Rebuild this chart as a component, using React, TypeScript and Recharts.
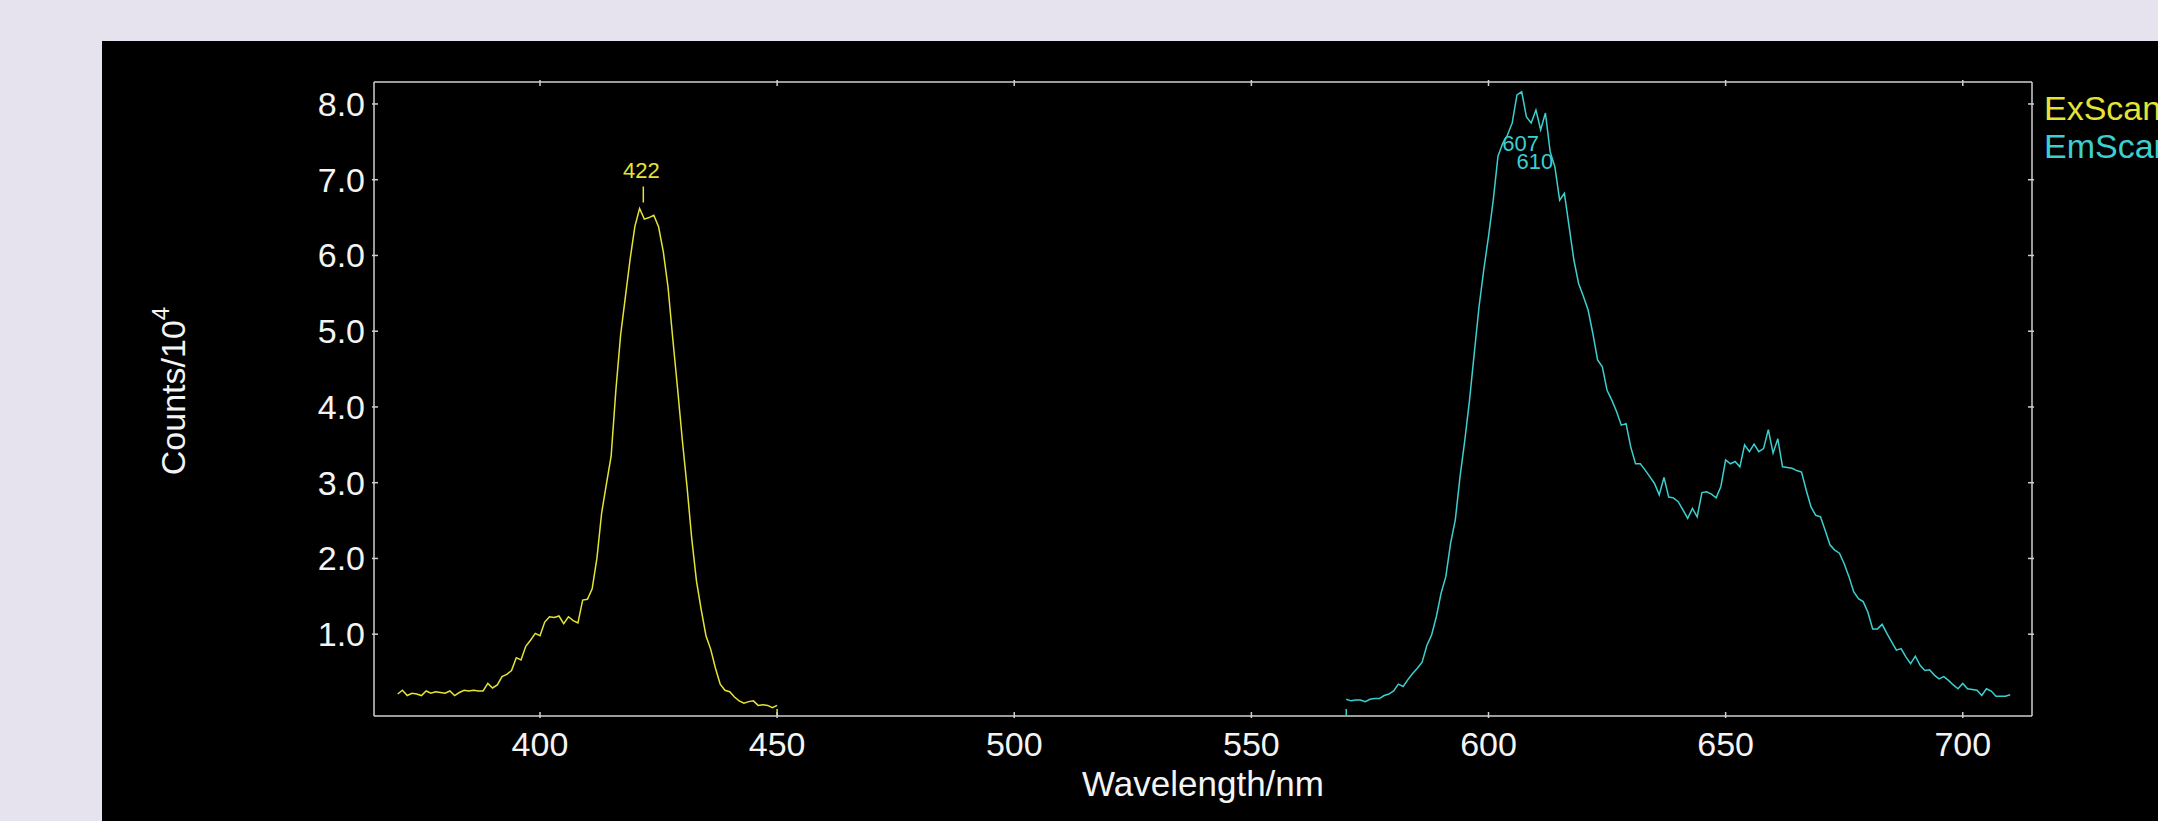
import React from 'react';
import { LineChart, Line, XAxis, YAxis, ReferenceDot } from 'recharts';

// ---- data (counts / 10^4) ----
const exWavelengths = [
  370, 371, 372, 373, 374, 375, 376, 377, 378, 379,
  380, 381, 382, 383, 384, 385, 386, 387, 388, 389,
  390, 391, 392, 393, 394, 395, 396, 397, 398, 399,
  400, 401, 402, 403, 404, 405, 406, 407, 408, 409,
  410, 411, 412, 413, 414, 415, 416, 417, 418, 419,
  420, 421, 422, 423, 424, 425, 426, 427, 428, 429,
  430, 431, 432, 433, 434, 435, 436, 437, 438, 439,
  440, 441, 442, 443, 444, 445, 446, 447, 448, 449,
  450,
];
const exCounts = [
  0.21, 0.26, 0.19, 0.22, 0.21, 0.19, 0.25, 0.22, 0.24, 0.23,
  0.22, 0.25, 0.19, 0.23, 0.26, 0.25, 0.26, 0.25, 0.25, 0.35,
  0.29, 0.33, 0.44, 0.47, 0.52, 0.69, 0.66, 0.84, 0.92, 1.01,
  0.98, 1.16, 1.23, 1.22, 1.24, 1.14, 1.23, 1.18, 1.15, 1.45,
  1.46, 1.6, 2.0, 2.6, 2.98, 3.35, 4.22, 4.95, 5.45, 5.95,
  6.38, 6.62, 6.48, 6.5, 6.53, 6.38, 6.05, 5.58, 4.9, 4.25,
  3.57, 2.95, 2.26, 1.7, 1.32, 0.98, 0.8, 0.55, 0.34, 0.26,
  0.24, 0.17, 0.12, 0.09, 0.11, 0.12, 0.06, 0.07, 0.06, 0.03,
  0.06,
];

const emWavelengths = [
  570, 571, 572, 573, 574, 575, 576, 577, 578, 579,
  580, 581, 582, 583, 584, 585, 586, 587, 588, 589,
  590, 591, 592, 593, 594, 595, 596, 597, 598, 599,
  600, 601, 602, 603, 604, 605, 606, 607, 608, 609,
  610, 611, 612, 613, 614, 615, 616, 617, 618, 619,
  620, 621, 622, 623, 624, 625, 626, 627, 628, 629,
  630, 631, 632, 633, 634, 635, 636, 637, 638, 639,
  640, 641, 642, 643, 644, 645, 646, 647, 648, 649,
  650, 651, 652, 653, 654, 655, 656, 657, 658, 659,
  660, 661, 662, 663, 664, 665, 666, 667, 668, 669,
  670, 671, 672, 673, 674, 675, 676, 677, 678, 679,
  680, 681, 682, 683, 684, 685, 686, 687, 688, 689,
  690, 691, 692, 693, 694, 695, 696, 697, 698, 699,
  700, 701, 702, 703, 704, 705, 706, 707, 708, 709,
  710,
];
const emCounts = [
  0.14, 0.12, 0.13, 0.13, 0.11, 0.14, 0.15, 0.15, 0.19, 0.21,
  0.25, 0.34, 0.31, 0.4, 0.48, 0.55, 0.63, 0.85, 0.99, 1.23,
  1.54, 1.76, 2.2, 2.51, 3.08, 3.56, 4.09, 4.71, 5.32, 5.81,
  6.25, 6.73, 7.31, 7.48, 7.59, 7.75, 8.12, 8.16, 7.83, 7.75,
  7.92, 7.66, 7.88, 7.37, 7.17, 6.73, 6.82, 6.38, 5.94, 5.63,
  5.46, 5.28, 4.97, 4.62, 4.53, 4.22, 4.09, 3.94, 3.76, 3.78,
  3.47, 3.25, 3.25, 3.17, 3.08, 2.99, 2.84, 3.07, 2.81, 2.8,
  2.75, 2.64, 2.53, 2.66, 2.55, 2.87, 2.88, 2.85, 2.8, 2.95,
  3.3, 3.25, 3.28, 3.21, 3.5, 3.41, 3.51, 3.41, 3.45, 3.7,
  3.39, 3.58, 3.21, 3.2, 3.19, 3.16, 3.14, 2.9, 2.68, 2.57,
  2.55, 2.37, 2.18, 2.11, 2.07, 1.93, 1.76, 1.56, 1.47, 1.43,
  1.29, 1.07, 1.07, 1.13, 1.01, 0.9, 0.79, 0.81, 0.7, 0.61,
  0.71, 0.59, 0.52, 0.53, 0.46, 0.41, 0.44, 0.39, 0.33, 0.28,
  0.35, 0.28, 0.27, 0.26, 0.19, 0.28, 0.25, 0.18, 0.18, 0.18,
  0.2,
];

const xTicks = [400, 450, 500, 550, 600, 650, 700];
const yTicks = [1, 2, 3, 4, 5, 6, 7, 8];
const xDomain = [365, 714.6];
const yDomain = [-0.08, 8.29];

const seriesNames = ['ExScan', 'EmScan'];

const exPeaks = [{ nm: 422, value: 6.62, text: '422' }];
const emPeaks = [
  { nm: 607, value: 8.16, text: '607' },
  { nm: 610, value: 7.92, text: '610' },
];
const scanMarkers = [
  { nm: 450, series: 'ex' },
  { nm: 570, series: 'em' },
];

// ---- style ----
const FONT = '"Liberation Sans", Arial, sans-serif';
const EX_COLOR = '#E4E436';
const EM_COLOR = '#3CCFCF';
const AXIS_COLOR = '#CFCFCF';
const TEXT_COLOR = '#F4F4F4';
const TICK_LEN = 6;

const rows = [
  ...exWavelengths.map((nm, i) => ({ nm, ex: exCounts[i] })),
  ...emWavelengths.map((nm, i) => ({ nm, em: emCounts[i] })),
];

const BottomTick = (props: any) => {
  const { x, y, payload } = props;
  return (
    <g>
      <line x1={x} y1={y} x2={x} y2={y - TICK_LEN} stroke={AXIS_COLOR} strokeWidth={1.5} />
      <text x={x} y={y + 38} textAnchor="middle" fill={TEXT_COLOR} fontSize={34} fontFamily={FONT}>
        {payload.value}
      </text>
    </g>
  );
};

const TopTick = (props: any) => {
  const { x, y } = props;
  return <line x1={x} y1={y} x2={x} y2={y + TICK_LEN} stroke={AXIS_COLOR} strokeWidth={1.5} />;
};

const LeftTick = (props: any) => {
  const { x, y, payload } = props;
  return (
    <g>
      <line x1={x} y1={y} x2={x + TICK_LEN} y2={y} stroke={AXIS_COLOR} strokeWidth={1.5} />
      <text x={x - 7} y={y + 12} textAnchor="end" fill={TEXT_COLOR} fontSize={34} fontFamily={FONT}>
        {Number(payload.value).toFixed(1)}
      </text>
    </g>
  );
};

const RightTick = (props: any) => {
  const { x, y } = props;
  return <line x1={x} y1={y} x2={x - TICK_LEN} y2={y} stroke={AXIS_COLOR} strokeWidth={1.5} />;
};

const XTitle = (props: any) => {
  const vb = props.viewBox;
  return (
    <text x={vb.x + vb.width / 2} y={vb.y + 80} textAnchor="middle" fill={TEXT_COLOR} fontSize={35} fontFamily={FONT}>
      Wavelength/nm
    </text>
  );
};

const YTitle = (props: any) => {
  const vb = props.viewBox;
  const x = vb.x - 129;
  const y = vb.y + vb.height / 2 - 8;
  return (
    <text x={x} y={y} transform={`rotate(-90, ${x}, ${y})`} textAnchor="middle" fill={TEXT_COLOR} fontSize={34} fontFamily={FONT}>
      Counts/10<tspan dy={-16} fontSize={24}>4</tspan>
    </text>
  );
};

export default function App() {
  return (
    <div style={{ position: 'fixed', left: 0, top: 0, width: 2158, height: 821, background: '#E6E2EE', overflow: 'hidden' }}>
      <div style={{ position: 'absolute', left: 102, top: 41, right: 0, bottom: 0, background: '#000000' }} />
      <div style={{ position: 'absolute', left: 0, top: 0 }}>
        <LineChart width={2158} height={821} data={rows} margin={{ top: 72, right: 116, bottom: 45, left: 314 }}>
          <XAxis
            dataKey="nm"
            type="number"
            domain={xDomain}
            allowDataOverflow
            ticks={xTicks}
            interval={0}
            tickSize={0}
            tickLine={false}
            height={60}
            axisLine={{ stroke: AXIS_COLOR, strokeWidth: 1.5 }}
            tick={<BottomTick />}
            label={{ content: <XTitle /> } as any}
          />
          <XAxis
            xAxisId="top"
            orientation="top"
            dataKey="nm"
            type="number"
            domain={xDomain}
            allowDataOverflow
            ticks={xTicks}
            interval={0}
            tickSize={0}
            tickLine={false}
            height={10}
            axisLine={{ stroke: AXIS_COLOR, strokeWidth: 1.5 }}
            tick={<TopTick />}
          />
          <YAxis
            type="number"
            domain={yDomain}
            allowDataOverflow
            ticks={yTicks}
            interval={0}
            tickSize={0}
            tickLine={false}
            width={60}
            axisLine={{ stroke: AXIS_COLOR, strokeWidth: 1.5 }}
            tick={<LeftTick />}
            label={{ content: <YTitle /> } as any}
          />
          <YAxis
            yAxisId="right"
            orientation="right"
            type="number"
            domain={yDomain}
            allowDataOverflow
            ticks={yTicks}
            interval={0}
            tickSize={0}
            tickLine={false}
            width={10}
            axisLine={{ stroke: AXIS_COLOR, strokeWidth: 1.5 }}
            tick={<RightTick />}
          />
          <Line dataKey="ex" name={seriesNames[0]} stroke={EX_COLOR} strokeWidth={1.5} dot={false} isAnimationActive={false} />
          <Line dataKey="em" name={seriesNames[1]} stroke={EM_COLOR} strokeWidth={1.5} dot={false} isAnimationActive={false} />
          {exPeaks.map((p) => (
            <ReferenceDot
              key={'ex' + p.nm}
              x={p.nm}
              y={p.value}
              r={0}
              shape={(s: any) => (
                <g>
                  <line x1={s.cx - 1} y1={s.cy - 6} x2={s.cx - 1} y2={s.cy - 22} stroke={EX_COLOR} strokeWidth={1.5} />
                  <text x={s.cx - 3} y={s.cy - 30} textAnchor="middle" fill={EX_COLOR} fontSize={22} fontFamily={FONT}>
                    {p.text}
                  </text>
                </g>
              )}
            />
          ))}
          {emPeaks.map((p) => (
            <ReferenceDot
              key={'em' + p.nm}
              x={p.nm}
              y={p.value}
              r={0}
              shape={(s: any) => (
                <text x={s.cx - 1} y={s.cy + 59} textAnchor="middle" fill={EM_COLOR} fontSize={22} fontFamily={FONT}>
                  {p.text}
                </text>
              )}
            />
          ))}
          {scanMarkers.map((m) => (
            <ReferenceDot
              key={'m' + m.nm}
              x={m.nm}
              y={yDomain[0]}
              r={0}
              shape={(s: any) => (
                <line x1={s.cx} y1={s.cy} x2={s.cx} y2={s.cy - 7} stroke={m.series === 'ex' ? EX_COLOR : EM_COLOR} strokeWidth={1.5} />
              )}
            />
          ))}
        </LineChart>
      </div>
      <div style={{ position: 'absolute', left: 2044, top: 89, fontFamily: FONT, fontSize: 34, lineHeight: '38px', whiteSpace: 'nowrap' }}>
        <div style={{ color: EX_COLOR }}>{seriesNames[0]}</div>
        <div style={{ color: EM_COLOR }}>{seriesNames[1]}</div>
      </div>
    </div>
  );
}
